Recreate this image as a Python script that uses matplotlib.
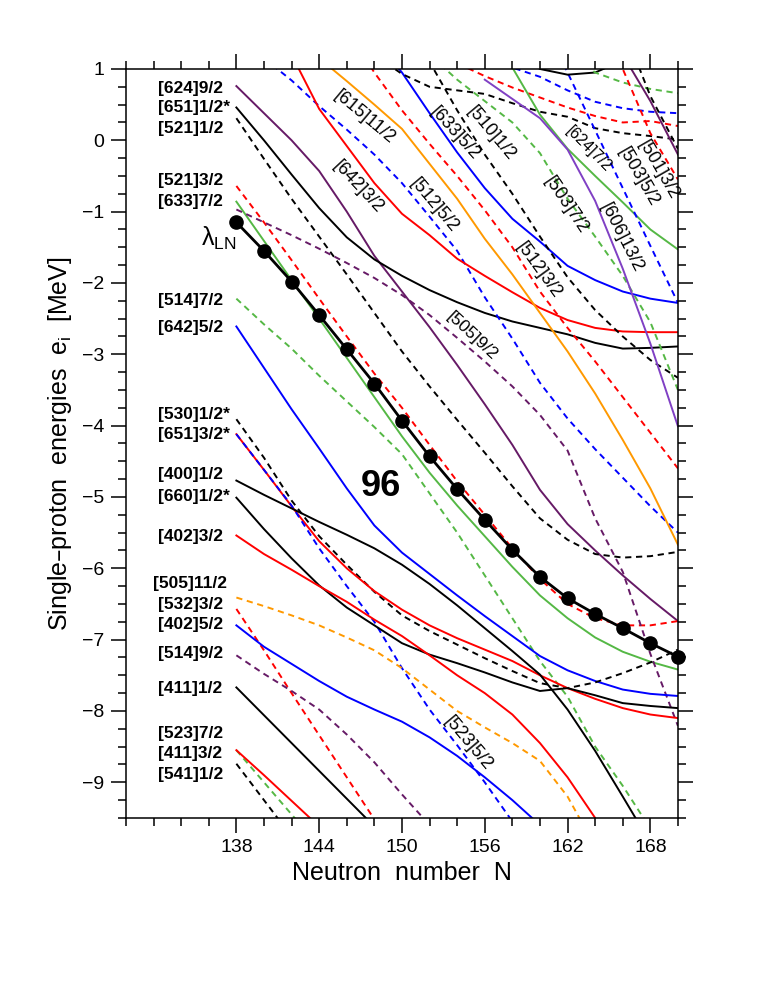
import matplotlib
matplotlib.use('Agg')
import matplotlib.pyplot as plt
from matplotlib.ticker import MultipleLocator

plt.rcParams['font.family'] = ['Liberation Sans', 'DejaVu Sans']

BLACK = 'black'
RED = '#ff0000'
BLUE = '#0000ff'
GREEN = '#55b845'
ORANGE = '#ff9900'
PURPLE = '#661a66'
VIOLET = '#8040c4'
DASH = (0, (3.2, 2.4))

# neutron numbers
N_ALL = [138, 140, 142, 144, 146, 148, 150, 152, 154, 156, 158, 160, 162, 164, 166, 168, 170]

# lambda_LN (Fermi level)
lam = [-1.15, -1.55, -1.98, -2.45, -2.93, -3.41, -3.93, -4.43, -4.89, -5.32, -5.74,
       -6.12, -6.42, -6.64, -6.84, -7.05, -7.24]

# levels labelled at N=138
e624_92 = [0.76, 0.38, 0.0, -0.43, -1.0, -1.62, -2.12, -2.62, -3.15, -3.7, -4.27, -4.9, -5.38, -5.75, -6.1, -6.43, -6.74]
e651_12 = [0.46, 0.0, -0.48, -0.95, -1.36, -1.67, -1.9, -2.1, -2.27, -2.42, -2.54, -2.63, -2.72, -2.84, -2.92, -2.91, -2.89]
e521_12 = [0.31, -0.26, -0.82, -1.35, -1.88, -2.42, -2.96, -3.45, -3.92, -4.38, -4.85, -5.3, -5.6, -5.8, -5.85, -5.83, -5.77]
e521_32 = [-0.64, -1.15, -1.68, -2.22, -2.75, -3.27, -3.75, -4.27, -4.78, -5.25, -5.72, -6.15, -6.5, -6.7, -6.8, -6.8, -6.74]
e633_72 = [-0.86, -1.41, -1.96, -2.5, -3.05, -3.6, -4.15, -4.66, -5.12, -5.55, -5.98, -6.38, -6.7, -6.97, -7.17, -7.31, -7.42]
e505_92 = [-0.97, -1.15, -1.33, -1.52, -1.72, -1.93, -2.17, -2.45, -2.77, -3.1, -3.45, -3.85, -4.35, -5.3, -6.05, -7.2, -8.21]
e514_72 = [-2.22, -2.58, -2.92, -3.3, -3.66, -4.02, -4.4, -4.95, -5.5, -6.1, -6.7, -7.3, -7.8, -8.5, -9.05, -9.65, -10.2]
e642_52 = [-2.61, -3.19, -3.77, -4.32, -4.88, -5.4, -5.78, -6.08, -6.38, -6.67, -6.95, -7.23, -7.43, -7.58, -7.7, -7.76, -7.79]
e530_12 = [-3.91, -4.45, -5.05, -5.55, -5.95, -6.33, -6.66, -6.88, -7.07, -7.26, -7.44, -7.61, -7.68, -7.6, -7.47, -7.32, -7.14]
e651_32 = [-4.12, -4.62, -5.13, -5.62, -6.0, -6.32, -6.58, -6.8, -6.98, -7.14, -7.3, -7.5, -7.68, -7.83, -7.96, -8.05, -8.1]
e523_52 = [-4.12, -4.62, -5.12, -5.72, -6.25, -6.75, -7.4, -7.98, -8.48, -9.0, -9.55]
e400_12 = [-4.77, -4.97, -5.16, -5.35, -5.53, -5.72, -5.95, -6.22, -6.52, -6.84, -7.16, -7.49, -7.98, -8.56, -9.2, -9.85]
e660_12 = [-5.01, -5.45, -5.86, -6.24, -6.55, -6.8, -7.05, -7.21, -7.33, -7.46, -7.6, -7.72, -7.68, -7.78, -7.89, -7.93, -7.96]
e402_32 = [-5.54, -5.8, -6.02, -6.25, -6.47, -6.72, -6.95, -7.22, -7.5, -7.75, -8.05, -8.45, -8.93, -9.5]
e505_112 = [-6.41, -6.53, -6.66, -6.8, -6.97, -7.15, -7.4, -7.7, -8.0, -8.23, -8.45, -8.7, -9.2, -9.9]
e532_32 = [-6.57, -7.15, -7.75, -8.34, -8.93, -9.52]
e402_52 = [-6.80, -7.1, -7.34, -7.58, -7.8, -7.98, -8.15, -8.37, -8.63, -8.93, -9.25, -9.6]
e514_92 = [-7.22, -7.48, -7.72, -7.98, -8.33, -8.72, -9.17, -9.6]
e411_12 = [-7.67, -8.06, -8.45, -8.84, -9.23, -9.62]
e523_72 = [-8.55, -9.0, -9.45, -9.9]
e411_32 = [-8.55, -8.9, -9.26, -9.62]
e541_12 = [-8.74, -9.25, -9.76]

# levels coming in from above
N_512_52 = [140, 142, 144, 146, 148, 150, 152, 154, 156, 158, 160, 162, 164, 166, 168, 170]
e512_52 = [1.15, 0.84, 0.48, 0.15, -0.2, -0.6, -1.07, -1.55, -2.2, -2.78, -3.4, -3.9, -4.33, -4.73, -5.13, -5.5]
N_642_32 = [142, 144, 146, 148, 150, 152, 154, 156, 158, 160, 162, 164, 166, 168, 170]
e642_32 = [1.2, 0.44, -0.08, -0.6, -1.03, -1.33, -1.66, -1.9, -2.13, -2.35, -2.52, -2.63, -2.68, -2.69, -2.69]
N_615_112 = [144, 146, 148, 150, 152, 154, 156, 158, 160, 162, 164, 166, 168, 170]
e615_112 = [1.15, 0.83, 0.5, 0.16, -0.33, -0.82, -1.38, -1.88, -2.42, -2.96, -3.55, -4.2, -4.88, -5.67]
N_512_32 = [146, 148, 150, 152, 154, 156, 158, 160, 162, 164, 166, 168, 170]
e512_32 = [1.55, 0.95, 0.42, -0.05, -0.5, -0.98, -1.5, -2.12, -2.63, -3.1, -3.6, -4.1, -4.6]
N_633_52 = [148, 150, 152, 154, 156, 158, 160, 162, 164, 166, 168, 170]
e633_52 = [1.42, 0.95, 0.38, -0.17, -0.67, -1.1, -1.42, -1.76, -1.96, -2.12, -2.22, -2.28]
N_bd_top = [146, 148, 150, 152, 154, 156, 158, 160, 162, 164, 166, 168, 170]
e_bd_top = [1.6, 1.2, 0.93, 0.75, 0.7, 0.65, 0.52, 0.4, 0.33, 0.17, 0.1, 0.06, 0.01]
N_510_12 = [150, 152, 154, 156, 158, 160, 162, 164, 166, 168, 170]
e510_12 = [1.78, 1.1, 0.42, -0.2, -0.75, -1.35, -1.92, -2.38, -2.75, -3.08, -3.33]
N_503_72 = [150, 152, 154, 156, 158, 160, 162, 164, 166, 168, 170]
e503_72 = [1.6, 1.2, 0.85, 0.55, 0.25, -0.18, -0.82, -1.35, -1.9, -2.55, -3.5]
N_rd_top = [152, 154, 156, 158, 160, 162, 164, 166, 168, 170]
e_rd_top = [1.3, 1.08, 0.9, 0.74, 0.6, 0.46, 0.34, 0.25, 0.27, 0.2]
N_624_72 = [156, 158, 160, 162, 164, 166, 168, 170]
e624_72 = [1.7, 1.02, 0.36, -0.12, -0.5, -0.87, -1.25, -1.53]
N_606_132 = [156, 158, 160, 162, 164, 166, 168, 170]
e606_132 = [0.85, 0.58, 0.31, -0.13, -0.85, -1.8, -2.85, -4.01]
N_503_52 = [160, 162, 164, 166, 168, 170]
e503_52 = [1.75, 0.95, 0.14, -0.67, -1.48, -2.28]
N_bl_top = [156, 158, 160, 162, 164, 166, 168, 170]
e_bl_top = [1.2, 1.02, 0.89, 0.7, 0.54, 0.45, 0.4, 0.38]
N_bk_top = [158, 160, 162, 164, 166]
e_bk_top = [1.25, 1.0, 0.92, 0.95, 1.12]
N_gd_top = [162, 164, 166, 168, 170]
e_gd_top = [1.25, 0.95, 0.81, 0.72, 0.66]
N_501_32 = [164, 166, 168, 170]
e501_32 = [2.0, 1.0, 0.1, -0.55]
N_pu_top = [164, 166, 168, 170]
e_pu_top = [1.85, 1.2, 0.55, -0.2]
N_bd_right = [164, 166, 168, 170]
e_bd_right = [2.2, 1.6, 0.62, -0.12]

levels = [
    (N_ALL, e624_92, PURPLE, '-'),
    (N_ALL, e651_12, BLACK, '-'),
    (N_ALL, e521_12, BLACK, DASH),
    (N_ALL, e521_32, RED, DASH),
    (N_ALL, e633_72, GREEN, '-'),
    (N_ALL, e505_92, PURPLE, DASH),
    (N_ALL, e514_72, GREEN, DASH),
    (N_ALL, e642_52, BLUE, '-'),
    (N_ALL, e530_12, BLACK, DASH),
    (N_ALL, e651_32, RED, '-'),
    (N_ALL[:11], e523_52, BLUE, DASH),
    (N_ALL[:16], e400_12, BLACK, '-'),
    (N_ALL, e660_12, BLACK, '-'),
    (N_ALL[:14], e402_32, RED, '-'),
    (N_ALL[:14], e505_112, ORANGE, DASH),
    (N_ALL[:6], e532_32, RED, DASH),
    (N_ALL[:12], e402_52, BLUE, '-'),
    (N_ALL[:8], e514_92, PURPLE, DASH),
    (N_ALL[:6], e411_12, BLACK, '-'),
    (N_ALL[:4], e523_72, GREEN, DASH),
    (N_ALL[:4], e411_32, RED, '-'),
    (N_ALL[:3], e541_12, BLACK, DASH),
    (N_512_52, e512_52, BLUE, DASH),
    (N_642_32, e642_32, RED, '-'),
    (N_615_112, e615_112, ORANGE, '-'),
    (N_512_32, e512_32, RED, DASH),
    (N_633_52, e633_52, BLUE, '-'),
    (N_bd_top, e_bd_top, BLACK, DASH),
    (N_510_12, e510_12, BLACK, DASH),
    (N_503_72, e503_72, GREEN, DASH),
    (N_rd_top, e_rd_top, RED, DASH),
    (N_624_72, e624_72, GREEN, '-'),
    (N_606_132, e606_132, VIOLET, '-'),
    (N_503_52, e503_52, BLUE, DASH),
    (N_bl_top, e_bl_top, BLUE, DASH),
    (N_bk_top, e_bk_top, BLACK, '-'),
    (N_gd_top, e_gd_top, GREEN, DASH),
    (N_501_32, e501_32, RED, DASH),
    (N_pu_top, e_pu_top, PURPLE, '-'),
    (N_bd_right, e_bd_right, BLACK, DASH),
]

# labels on the left (text, energy of text centre)
left_labels = ['[624]9/2', '[651]1/2*', '[521]1/2', '[521]3/2', '[633]7/2', '[514]7/2',
               '[642]5/2', '[530]1/2*', '[651]3/2*', '[400]1/2', '[660]1/2*', '[402]3/2',
               '[505]11/2', '[532]3/2', '[402]5/2', '[514]9/2', '[411]1/2', '[523]7/2',
               '[411]3/2', '[541]1/2']
left_label_e = [0.73, 0.46, 0.16, -0.57, -0.86, -2.24, -2.63, -3.85, -4.13, -4.69, -4.99,
                -5.55, -6.22, -6.51, -6.79, -7.19, -7.68, -8.31, -8.60, -8.89]

# labels inside the plot (text, N, E, rotation)
inner_labels = ['[615]11/2', '[642]3/2', '[512]5/2', '[633]5/2', '[510]1/2', '[512]3/2',
                '[503]7/2', '[624]7/2', '[606]13/2', '[503]5/2', '[501]3/2', '[505]9/2', '[523]5/2']
inner_n = [147.3, 146.8, 152.3, 153.8, 156.5, 159.9, 161.9, 163.5, 165.9, 167.1, 168.6, 155.05, 154.8]
inner_e = [0.33, -0.65, -0.91, 0.1, 0.1, -1.82, -0.91, -0.13, -1.37, -0.51, -0.42, -2.75, -8.45]
inner_rot = [-40, -47, -50, -48, -50, -54, -56, -45, -63, -60, -60, -43, -50]
inner_size = [13, 13, 13, 13, 13, 13, 13, 11.5, 13, 13, 13, 12.5, 13]

fig = plt.figure(figsize=(7.58, 9.81), dpi=100)
ax = fig.add_axes([0.1662, 0.1662, 0.7282, 0.7635])

for n, e, c, ls in levels:
    ax.plot(n, e, color=c, linestyle=ls, lw=1.4)

ax.plot(N_ALL, lam, color='black', lw=2.0, marker='o', markersize=9.5, zorder=5,
        clip_on=False)

for t, y in zip(left_labels, left_label_e):
    x = 131.96 if t == '[505]11/2' else 132.3
    ax.text(x, y, t, ha='left', va='center', fontsize=12.5, fontweight='bold')

for t, x, y, r, s in zip(inner_labels, inner_n, inner_e, inner_rot, inner_size):
    ax.text(x, y, t, ha='center', va='center', rotation=r, fontsize=s,
            rotation_mode='anchor')

ax.text(138.0, -1.37, '\u03bb$_\\mathregular{LN}$', ha='right', va='center', fontsize=18)
ax.text(148.5, -4.85, '96', ha='center', va='center', fontsize=26, fontweight='bold')

ax.set_xlim(130, 170)
ax.set_ylim(-9.5, 1)
ax.set_xticks([138, 144, 150, 156, 162, 168])
ax.xaxis.set_minor_locator(MultipleLocator(2))
ax.set_yticks(list(range(-9, 2)))
ax.yaxis.set_minor_locator(MultipleLocator(0.25))
ax.tick_params(which='both', direction='out', top=True, right=True, width=1.1, labelsize=14)
ax.tick_params(which='major', length=10.5, pad=5)
ax.tick_params(which='minor', length=6)
for s in ax.spines.values():
    s.set_linewidth(1.1)

ax.set_xlabel('Neutron  number  N', fontsize=18, labelpad=3)
ax.set_ylabel('Single\u2013proton  energies  e$_\\mathregular{i}$  [MeV]', fontsize=18, labelpad=6)

fig.savefig('out.png', dpi=100)
